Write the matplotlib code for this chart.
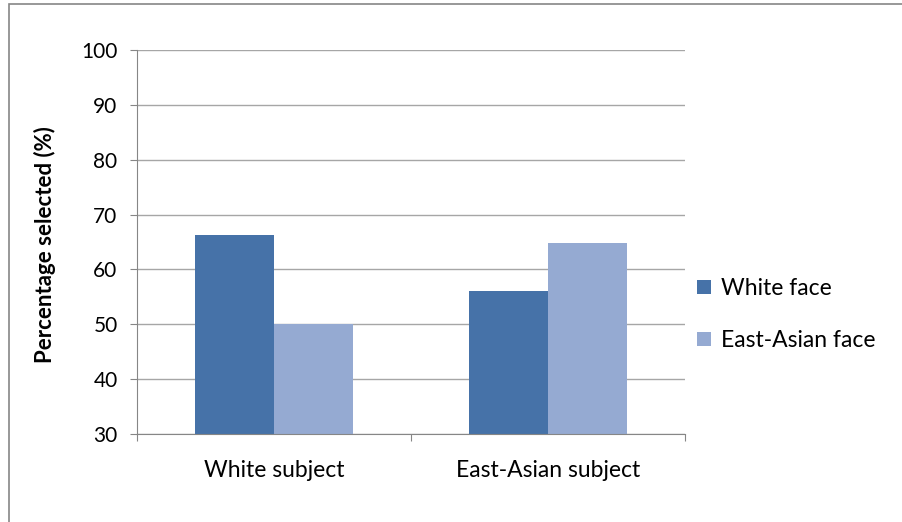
import numpy as np
import matplotlib
matplotlib.use("Agg")
from matplotlib import pyplot as plt
from matplotlib.patches import Rectangle

plt.rcParams['font.family'] = ['Lato', 'DejaVu Sans']

subjects = ['White subject', 'East-Asian subject']
series = ['White face', 'East-Asian face']
white_face = [66.3, 56.1]
asian_face = [50.0, 64.9]
colors = ['#4672A8', '#95AAD2']

W, H = 902, 522
fig = plt.figure(figsize=(W / 100, H / 100), dpi=100)
ax = fig.add_axes([137 / W, 1 - 434 / H, (685 - 137) / W, (434 - 50) / H])

x = np.arange(len(subjects))
bw = 0.288
ax.bar(x - bw / 2, white_face, bw, color=colors[0], label=series[0], zorder=3)
ax.bar(x + bw / 2, asian_face, bw, color=colors[1], label=series[1], zorder=3)

ax.set_xlim(-0.5, 1.5)
ax.set_ylim(30, 100)
ax.set_yticks(np.arange(30, 101, 10))
ax.yaxis.grid(True, color='#A6A6A6', linewidth=1.0, zorder=0)

ax.set_xticks([-0.5, 0.5, 1.5])
ax.set_xticklabels([])
ax.set_xticks(x, minor=True)
ax.set_xticklabels(subjects, minor=True, fontsize=16.5)
ax.tick_params(axis='x', which='minor', length=0, pad=19)
ax.tick_params(axis='x', which='major', length=5, color='#868686', direction='out')
ax.tick_params(axis='y', length=5, color='#868686', labelsize=15, pad=9)

for s in ['top', 'right']:
    ax.spines[s].set_visible(False)
for s in ['left', 'bottom']:
    ax.spines[s].set_color('#868686')
    ax.spines[s].set_zorder(4)

fig.text(45 / W, 1 - 245 / H, 'Percentage selected (%)', rotation=90,
         ha='center', va='center', fontsize=16, fontweight='bold')

ax.legend(loc='upper left', bbox_to_anchor=(697 / W, 1 - 278 / H),
          bbox_transform=fig.transFigure, frameon=False, fontsize=16.5,
          handlelength=0.6, handleheight=0.6, handletextpad=0.45,
          labelspacing=1.35, borderaxespad=0, borderpad=0)

# chart area border (right and bottom edges fall outside the image)
fig.patches.append(Rectangle((8.5 / W, -0.1), 1.2, 1.1 - 3.5 / H,
                             transform=fig.transFigure, fill=False,
                             edgecolor='#868686', linewidth=1.2))

fig.savefig('out.png', dpi=100)
